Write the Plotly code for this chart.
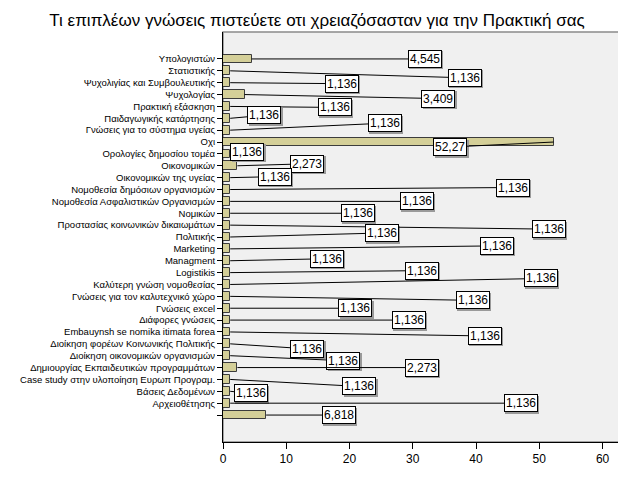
import plotly.graph_objects as go

TITLE = "Τι επιπλέων γνώσεις πιστεύετε οτι χρειαζόσασταν για την Πρακτική σας"

categories = [
    "Υπολογιστών",
    "Στατιστικής",
    "Ψυχολιγίας και Συμβουλευτικής",
    "Ψυχολογίας",
    "Πρακτική εξάσκηση",
    "Παιδαγωγικής κατάρτησης",
    "Γνώσεις για το σύστημα υγείας",
    "Οχι",
    "Ορολογίες δημοσίου τομέα",
    "Οικονομικών",
    "Οικονομικών της υγείας",
    "Νομοθεσία δημόσιων οργανισμών",
    "Νομοθεσία Ασφαλιστικών Οργανισμών",
    "Νομικών",
    "Προστασίας κοινωνικών δικαιωμάτων",
    "Πολιτικής",
    "Marketing",
    "Managment",
    "Logistikis",
    "Καλύτερη γνώση νομοθεσίας",
    "Γνώσεις για τον καλυτεχνικό χώρο",
    "Γνώσεις excel",
    "Διάφορες γνώσεις",
    "Embauynsh se nomika itimata forea",
    "Διοίκηση φορέων Κοινωνικής Πολιτικής",
    "Διοίκηση οικονομικών οργανισμών",
    "Δημιουργίας Εκπαιδευτικών προγραμμάτων",
    "Case study στην υλοποίηση Ευρωπ Προγραμ.",
    "Βάσεις Δεδομένων",
    "Αρχειοθέτησης",
    "",
]

percent = [
    4.545, 1.136, 1.136, 3.409, 1.136, 1.136, 1.136, 52.27, 1.136, 2.273,
    1.136, 1.136, 1.136, 1.136, 1.136, 1.136, 1.136, 1.136, 1.136, 1.136,
    1.136, 1.136, 1.136, 1.136, 1.136, 1.136, 2.273, 1.136, 1.136, 1.136,
    6.818,
]

value_labels = [
    "4,545", "1,136", "1,136", "3,409", "1,136", "1,136", "1,136", "52,27",
    "1,136", "2,273", "1,136", "1,136", "1,136", "1,136", "1,136", "1,136",
    "1,136", "1,136", "1,136", "1,136", "1,136", "1,136", "1,136", "1,136",
    "1,136", "1,136", "2,273", "1,136", "1,136", "1,136", "6,818",
]

# where SPSS parked each label box (x in axis units, y offset in pixels)
label_x = [
    31.9, 38.2, 18.8, 34.0, 17.7, 6.5, 25.6, 35.9, 3.8, 13.3,
    8.2, 45.8, 30.6, 21.3, 51.5, 25.1, 43.3, 16.4, 31.4, 50.2,
    39.5, 20.9, 29.4, 41.4, 13.3, 19.0, 31.4, 21.5, 4.4, 47.1,
    18.3,
]
label_dy = [
    0, 7, 1, 4, 1, -3, -7, 5, -2, -2,
    -1, -2, 0, 0, 4, -4, -3, -2, -2, -6,
    4, 0, 0, 4, 5, 5, 0, 7, 2, 0,
    0,
]

pos = list(range(len(categories)))

fig = go.Figure()

fig.add_trace(go.Bar(
    x=percent,
    y=pos,
    orientation="h",
    width=0.74,
    marker=dict(color="#d4cf98", line=dict(color="#3c3c3c", width=1)),
    hoverinfo="x+text",
    text=categories,
    textposition="none",
))

annotations = []
# drop shadows first, so the boxes sit on top
for v, p, lx, dy, t in zip(percent, pos, label_x, label_dy, value_labels):
    annotations.append(dict(
        x=v, y=p, ax=lx, ay=dy, axref="x", ayref="pixel",
        text=t, showarrow=True, arrowhead=0, arrowwidth=1,
        arrowcolor="rgba(0,0,0,0)", xshift=1.5, yshift=-1.5,
        bgcolor="#9a9a9a", bordercolor="#9a9a9a", borderwidth=1,
        borderpad=1, font=dict(family="Liberation Sans, Arial", size=12, color="#9a9a9a"),
    ))
for v, p, lx, dy, t in zip(percent, pos, label_x, label_dy, value_labels):
    annotations.append(dict(
        x=v, y=p, ax=lx, ay=dy, axref="x", ayref="pixel",
        text=t, showarrow=True, arrowhead=0, arrowwidth=1,
        arrowcolor="#000000", standoff=0,
        bgcolor="#ffffff", bordercolor="#000000", borderwidth=1,
        borderpad=1, font=dict(family="Liberation Sans, Arial", size=12, color="#000000"),
    ))

# the page body adds 8px, so the figure is 8px smaller than the window
fig.update_layout(
    width=618,
    height=493,
    margin=dict(l=215, r=7, t=24, b=59),
    paper_bgcolor="#ffffff",
    plot_bgcolor="#f0f0f0",
    showlegend=False,
    bargap=0,
    title=dict(
        text=TITLE, x=0.5, xanchor="center", y=1 - 12 / 493, yanchor="middle",
        yref="container",
        font=dict(family="Liberation Sans, Arial", size=17, color="#000000"),
    ),
    annotations=annotations,
    xaxis=dict(
        range=[0, 62.6],
        tickvals=[0, 10, 20, 30, 40, 50, 60],
        ticks="outside", ticklen=6, tickcolor="#000000",
        showgrid=False, zeroline=False, automargin=False,
        showline=True, linecolor="#000000", linewidth=1,
        tickfont=dict(family="Liberation Sans, Arial", size=12, color="#000000"),
    ),
    yaxis=dict(
        range=[32.27, -2.27],
        tickvals=pos,
        ticktext=categories,
        ticks="outside", ticklen=5, tickcolor="#000000",
        showgrid=False, zeroline=False, automargin=False,
        showline=True, linecolor="#000000", linewidth=1,
        tickfont=dict(family="Liberation Sans, Arial", size=9.5, color="#000000"),
    ),
    shapes=[dict(
        type="rect", xref="paper", yref="paper", x0=0, x1=1, y0=0, y1=1,
        line=dict(color="#8a8a8a", width=1.5), layer="below",
    )],
)

fig.write_html("out.html")
